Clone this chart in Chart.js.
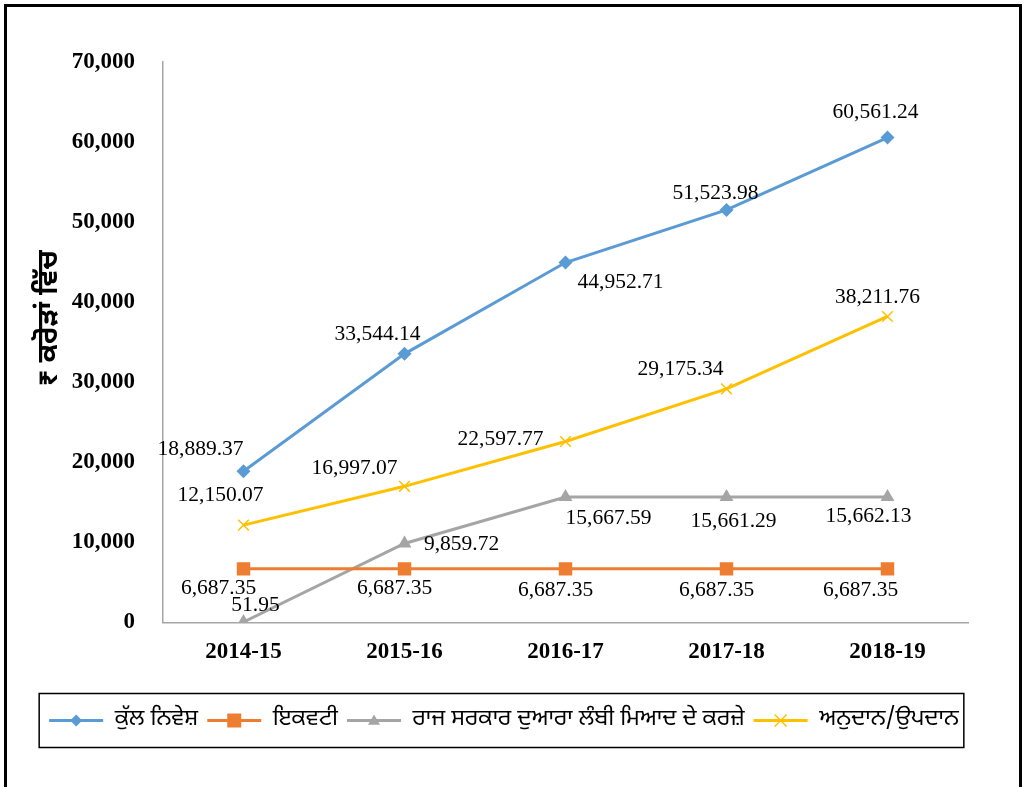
<!DOCTYPE html>
<html>
<head>
<meta charset="utf-8">
<script src="https://cdn.jsdelivr.net/npm/chart.js@4.4.1/dist/chart.umd.min.js"></script>
<style>
html, body { margin: 0; padding: 0; background: #fff; overflow: hidden; }
#wrap { position: relative; width: 1025px; height: 787px; }
#frame { position: absolute; left: 4px; top: 4px; width: 1018px; height: 820px; box-sizing: border-box; border: 3px solid #000; pointer-events: none; }
</style>
</head>
<body>
<div id="wrap">
  <canvas id="myChart" width="1025" height="787"></canvas>
  <div id="frame"></div>
</div>
<script>
const years = ['2014-15', '2015-16', '2016-17', '2017-18', '2018-19'];
const totalInvestment = [18889.37, 33544.14, 44952.71, 51523.98, 60561.24];
const equity = [6687.35, 6687.35, 6687.35, 6687.35, 6687.35];
const stateLoans = [51.95, 9859.72, 15667.59, 15661.29, 15662.13];
const grants = [12150.07, 16997.07, 22597.77, 29175.34, 38211.76];
const seriesNames = ['ਕੁੱਲ ਨਿਵੇਸ਼', 'ਇਕਵਟੀ', 'ਰਾਜ ਸਰਕਾਰ ਦੁਆਰਾ ਲੰਬੀ ਮਿਆਦ ਦੇ ਕਰਜ਼ੇ', 'ਅਨੁਦਾਨ/ਉਪਦਾਨ'];
const yTitle = '₹ ਕਰੋੜਾਂ ਵਿੱਚ';

// label offsets from each point, in pixels [dx, dy]
const labelOffsets = [
    [[-43, -22], [-27, -19], [55, 20], [-11, -17], [-12, -25]],
    [[-25, 19], [-10, 19], [-10, 21], [-10, 21], [-27, 21]],
    [[12, -17], [57, 1], [43, 21], [7, 24], [-19, 19]],
    [[-23, -30], [-50, -18], [-65, -2], [-46, -19], [-10, -19]]
];

const gurmukhi = '"Noto Sans Gurmukhi", "Noto Sans", sans-serif';
const serif = '"Liberation Serif", "Times New Roman", serif';

function fmt(v) {
    return v.toLocaleString('en-US', { minimumFractionDigits: 2, maximumFractionDigits: 2 });
}

function marker(ctx, style, x, y, r, color) {
    ctx.save();
    ctx.fillStyle = color;
    ctx.strokeStyle = color;
    ctx.lineWidth = 1.5;
    ctx.beginPath();
    if (style === 'rectRot') {
        ctx.moveTo(x, y - r); ctx.lineTo(x + r, y); ctx.lineTo(x, y + r); ctx.lineTo(x - r, y);
        ctx.closePath(); ctx.fill();
    } else if (style === 'rect') {
        ctx.rect(x - r, y - r, 2 * r, 2 * r); ctx.fill();
    } else if (style === 'triangle') {
        ctx.moveTo(x, y - r); ctx.lineTo(x + r, y + r * 0.7); ctx.lineTo(x - r, y + r * 0.7);
        ctx.closePath(); ctx.fill();
    } else {
        ctx.moveTo(x - r, y - r); ctx.lineTo(x + r, y + r);
        ctx.moveTo(x + r, y - r); ctx.lineTo(x - r, y + r); ctx.stroke();
    }
    ctx.restore();
}

const valueLabels = {
    id: 'valueLabels',
    afterDatasetsDraw(chart) {
        const ctx = chart.ctx;
        ctx.save();
        ctx.font = '21.5px ' + serif;
        ctx.fillStyle = '#000';
        ctx.textAlign = 'center';
        ctx.textBaseline = 'middle';
        chart.data.datasets.forEach((ds, i) => {
            chart.getDatasetMeta(i).data.forEach((pt, j) => {
                const off = labelOffsets[i][j];
                ctx.fillText(fmt(ds.data[j]), pt.x + off[0], pt.y + off[1]);
            });
        });
        ctx.restore();
    }
};

// y axis title, placed a little above the axis middle like the original
const axisTitle = {
    id: 'axisTitle',
    afterDraw(chart) {
        const ctx = chart.ctx;
        ctx.save();
        ctx.translate(52, 318);
        ctx.rotate(-Math.PI / 2);
        ctx.font = 'bold 28px ' + gurmukhi;
        ctx.fillStyle = '#000';
        ctx.textAlign = 'center';
        ctx.textBaseline = 'middle';
        ctx.fillText(yTitle, 0, 0);
        ctx.restore();
    }
};

const legendDecor = {
    id: 'legendDecor',
    afterDraw(chart) {
        const lg = chart.legend;
        const ctx = chart.ctx;
        const boxes = lg.legendHitBoxes;
        const bw = 54;
        boxes.forEach((b, i) => {
            const ds = chart.data.datasets[i];
            const cy = b.top + b.height / 2;
            ctx.save();
            ctx.strokeStyle = ds.borderColor;
            ctx.lineWidth = 3;
            ctx.beginPath();
            ctx.moveTo(b.left, cy);
            ctx.lineTo(b.left + bw, cy);
            ctx.stroke();
            ctx.restore();
            marker(ctx, ds.pointStyle, b.left + bw / 2, cy, ds.pointStyle === 'rect' ? 7 : 6, ds.borderColor);
        });
        const left = boxes[0].left - 10;
        const last = boxes[boxes.length - 1];
        const right = last.left + last.width + 5;
        const cy = boxes[0].top + boxes[0].height / 2;
        ctx.save();
        ctx.strokeStyle = '#000';
        ctx.lineWidth = 1.5;
        ctx.strokeRect(left, cy - 27, right - left, 54);
        ctx.restore();
    }
};

function line(label, data, color, style, radius) {
    return {
        label: label,
        data: data,
        borderColor: color,
        backgroundColor: color,
        borderWidth: 3,
        pointStyle: style,
        pointRadius: radius,
        pointHoverRadius: radius,
        pointBorderWidth: style === 'crossRot' ? 1.5 : 0,
        tension: 0
    };
}

const ctx = document.getElementById('myChart');
const investChart = new Chart(ctx, {
    type: 'line',
    data: {
        labels: years,
        datasets: [
            line(seriesNames[0], totalInvestment, '#5B9BD5', 'rectRot', 7),
            line(seriesNames[1], equity, '#ED7D31', 'rect', 9.5),
            line(seriesNames[2], stateLoans, '#A5A5A5', 'triangle', 8),
            line(seriesNames[3], grants, '#FFC000', 'crossRot', 7.5)
        ]
    },
    options: {
        responsive: false,
        animation: false,
        events: [],
        layout: { padding: { left: 40, right: 57, top: 62, bottom: 45 } },
        plugins: {
            tooltip: { enabled: false },
            legend: {
                position: 'bottom',
                labels: {
                    usePointStyle: true,
                    pointStyleWidth: 54,
                    padding: 9,
                    color: '#000',
                    font: { family: gurmukhi, size: 23 },
                    generateLabels(chart) {
                        return chart.data.datasets.map((ds, i) => ({
                            text: ds.label,
                            fillStyle: 'rgba(0,0,0,0)',
                            strokeStyle: 'rgba(0,0,0,0)',
                            lineWidth: 0,
                            pointStyle: 'rect',
                            datasetIndex: i
                        }));
                    }
                }
            }
        },
        scales: {
            x: {
                offset: true,
                grid: { display: false, offset: true },
                border: { display: true, color: '#A6A6A6', width: 1.5 },
                ticks: { color: '#000', padding: 8, font: { family: serif, size: 23, weight: 'bold' } },
                afterFit(scale) { scale.height += 26; }
            },
            y: {
                min: 0,
                max: 70000,
                grid: { display: false },
                border: { display: true, color: '#A6A6A6', width: 1.5 },
                ticks: {
                    stepSize: 10000,
                    color: '#000',
                    padding: 20,
                    font: { family: serif, size: 23, weight: 'bold' },
                    callback: v => v.toLocaleString('en-US')
                },
                afterFit(scale) { scale.width = 123; }
            }
        }
    },
    plugins: [valueLabels, legendDecor, axisTitle]
});
</script>
</body>
</html>
